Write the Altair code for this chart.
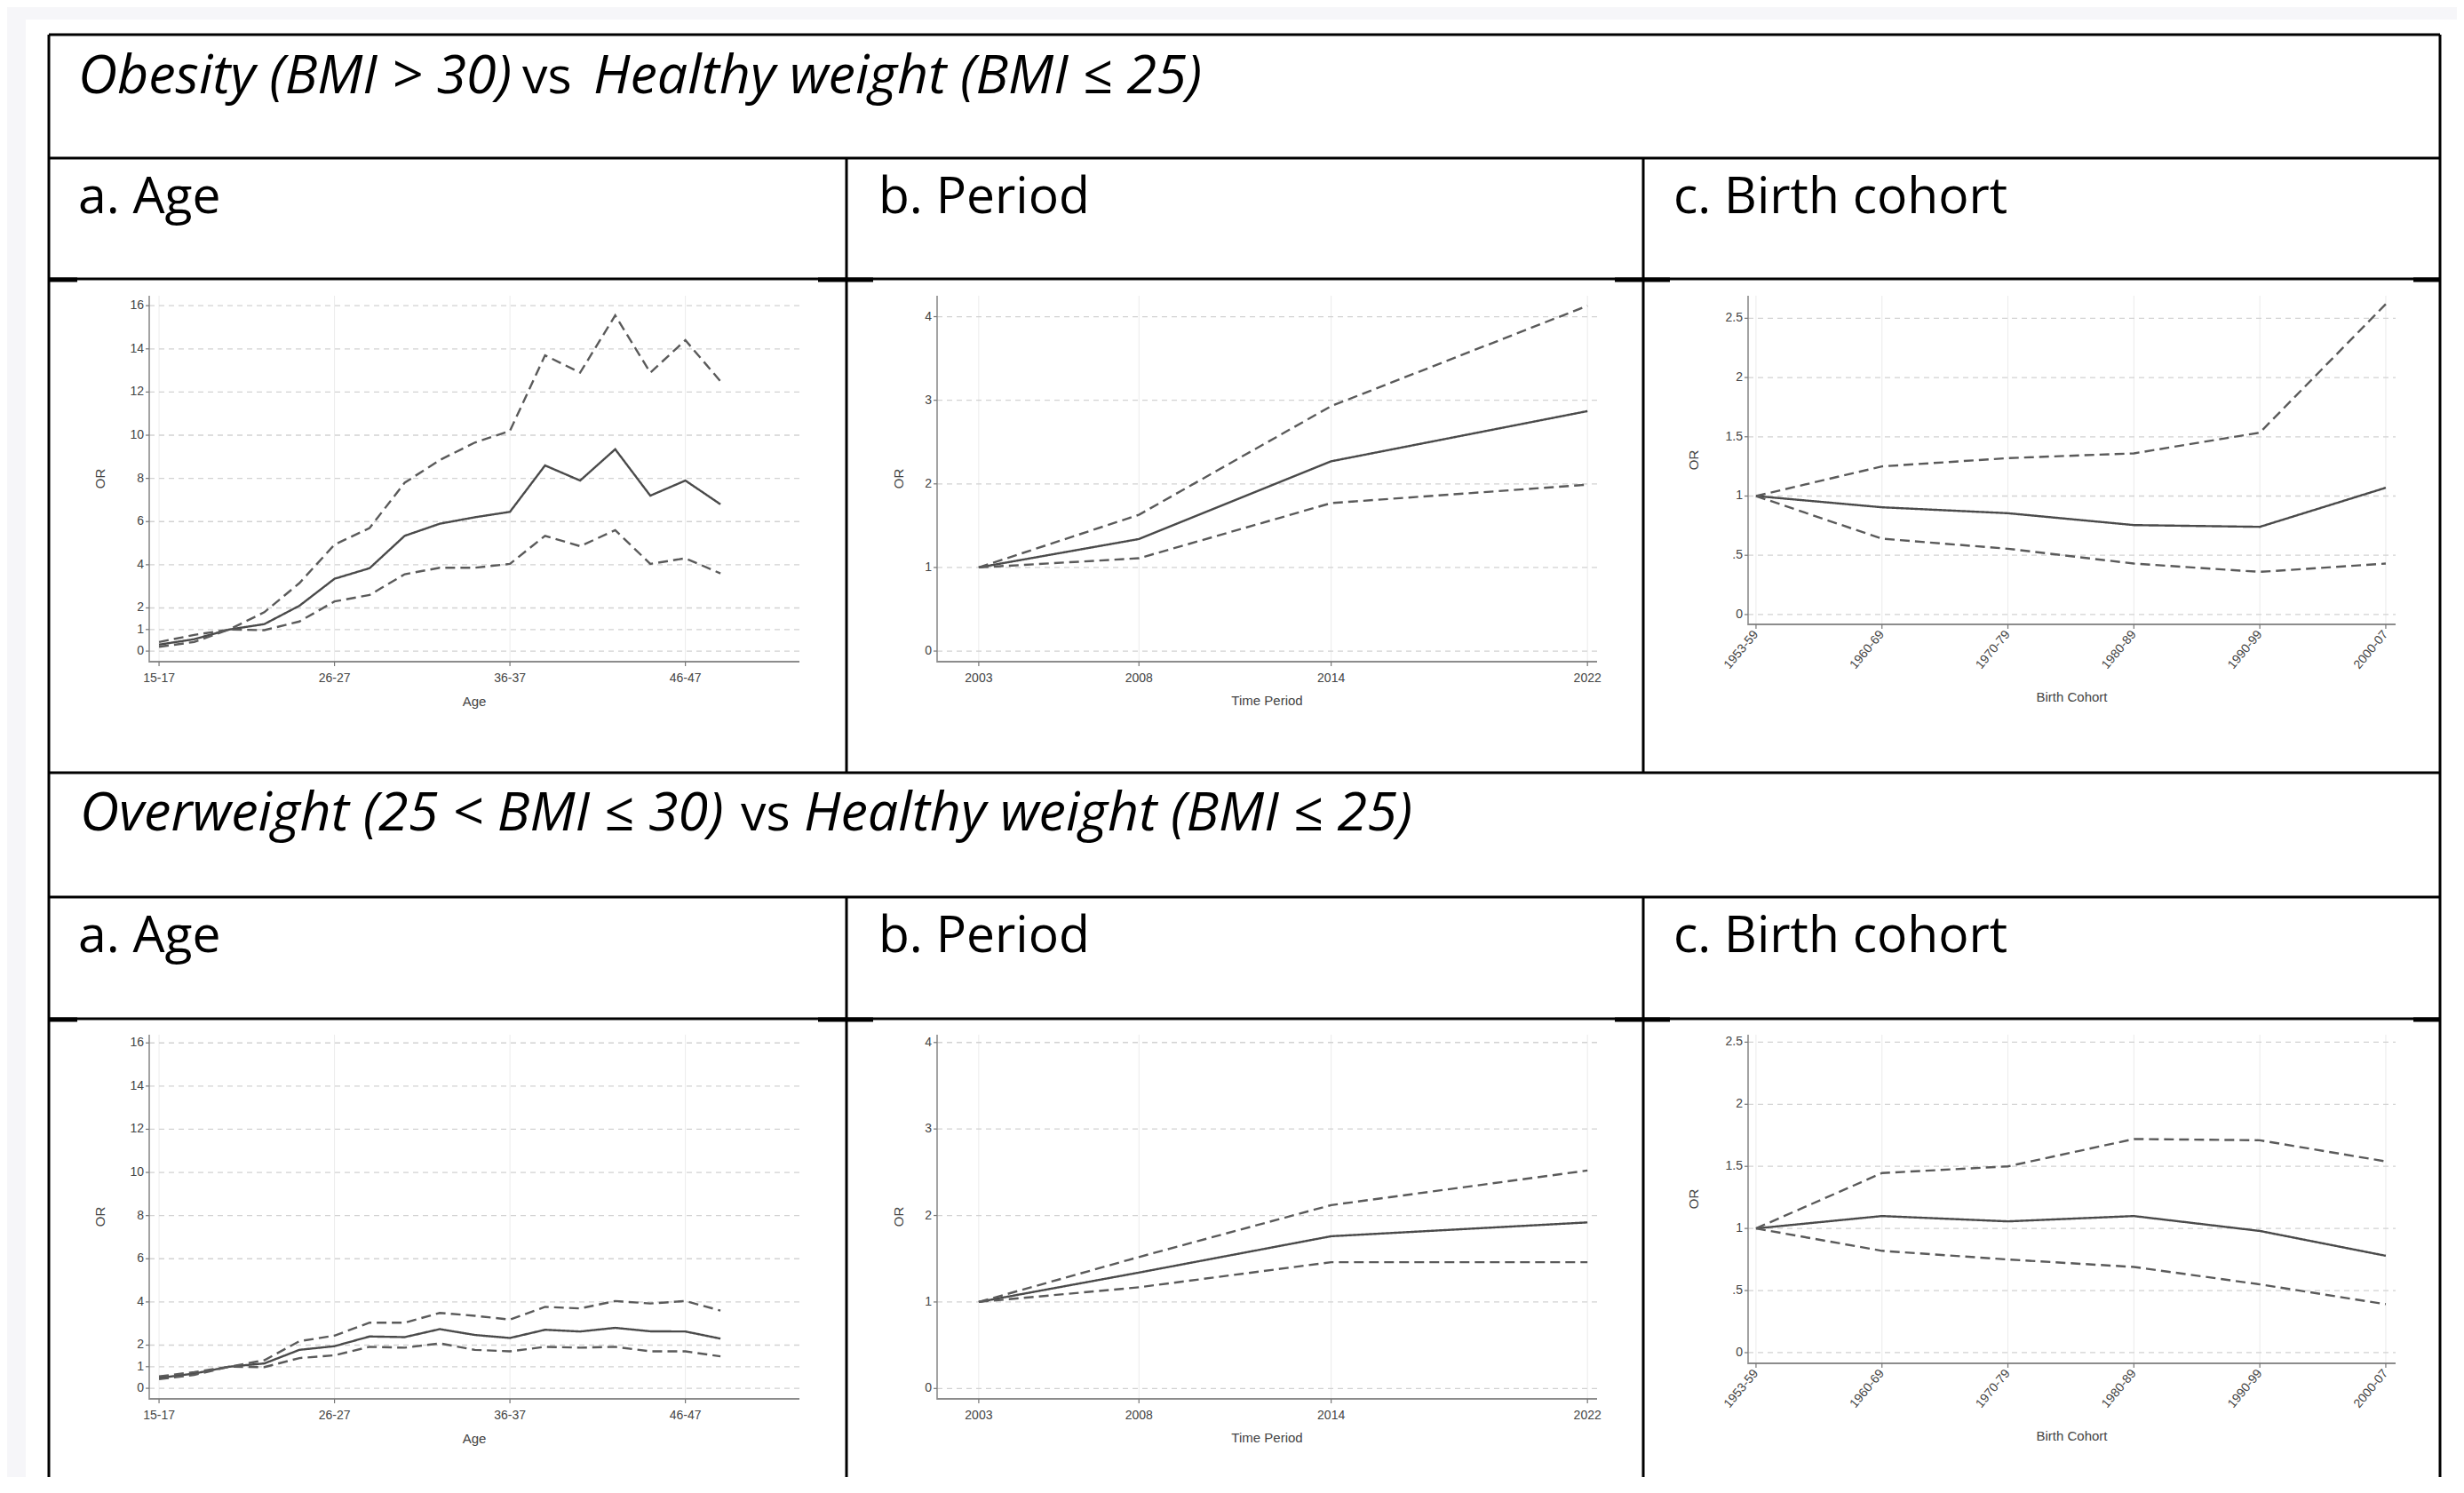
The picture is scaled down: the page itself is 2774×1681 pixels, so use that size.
import altair as alt
import pandas as pd

# ---------------- data ----------------
age_groups = ["15-17", "18-19", "20-21", "22-23", "24-25", "26-27", "28-29", "30-31",
              "32-33", "34-35", "36-37", "38-39", "40-41", "42-43", "44-45", "46-47", "48-49"]
ob_age_or = [0.30, 0.55, 1.00, 1.25, 2.10, 3.35, 3.84, 5.34, 5.90, 6.20, 6.45, 8.60, 7.90, 9.35, 7.20, 7.90, 6.80]
ob_age_hi = [0.42, 0.75, 1.00, 1.80, 3.15, 4.93, 5.70, 7.80, 8.85, 9.66, 10.20, 13.70, 12.90, 15.55, 12.90, 14.40, 12.50]
ob_age_lo = [0.20, 0.42, 1.00, 0.97, 1.37, 2.30, 2.60, 3.56, 3.86, 3.86, 4.04, 5.34, 4.86, 5.60, 4.04, 4.30, 3.60]

ow_age_or = [0.48, 0.68, 1.00, 1.15, 1.78, 1.95, 2.40, 2.37, 2.74, 2.47, 2.33, 2.71, 2.63, 2.80, 2.64, 2.63, 2.30]
ow_age_hi = [0.55, 0.75, 1.00, 1.30, 2.18, 2.44, 3.04, 3.04, 3.49, 3.36, 3.18, 3.77, 3.70, 4.04, 3.93, 4.04, 3.60]
ow_age_lo = [0.42, 0.62, 1.00, 0.98, 1.40, 1.53, 1.92, 1.88, 2.08, 1.78, 1.71, 1.92, 1.88, 1.92, 1.71, 1.71, 1.48]

periods = [2003, 2008, 2014, 2022]
ob_per_or = [1.00, 1.34, 2.27, 2.87]
ob_per_hi = [1.00, 1.63, 2.93, 4.13]
ob_per_lo = [1.00, 1.11, 1.77, 1.99]
ow_per_or = [1.00, 1.34, 1.76, 1.92]
ow_per_hi = [1.00, 1.52, 2.12, 2.52]
ow_per_lo = [1.00, 1.17, 1.46, 1.46]

cohorts = ["1953-59", "1960-69", "1970-79", "1980-89", "1990-99", "2000-07"]
ob_coh_or = [1.00, 0.905, 0.855, 0.755, 0.74, 1.07]
ob_coh_hi = [1.00, 1.25, 1.32, 1.36, 1.535, 2.62]
ob_coh_lo = [1.00, 0.64, 0.555, 0.43, 0.36, 0.43]
ow_coh_or = [1.00, 1.10, 1.057, 1.10, 0.98, 0.78]
ow_coh_hi = [1.00, 1.446, 1.50, 1.72, 1.71, 1.54]
ow_coh_lo = [1.00, 0.82, 0.75, 0.69, 0.55, 0.39]

age_xticks = [0, 5, 10, 15]
age_xlabels = [age_groups[i] for i in age_xticks]
per_xlabels = [str(p) for p in periods]
coh_xticks = list(range(len(cohorts)))

age_yticks = [0, 1, 2, 4, 6, 8, 10, 12, 14, 16]
age_ylabels = ["0", "1", "2", "4", "6", "8", "10", "12", "14", "16"]
per_yticks = [0, 1, 2, 3, 4]
per_ylabels = ["0", "1", "2", "3", "4"]
coh_yticks = [0, 0.5, 1, 1.5, 2, 2.5]
coh_ylabels = ["0", ".5", "1", "1.5", "2", "2.5"]

title_1 = ["Obesity (BMI > 30)", "vs", "Healthy weight (BMI \u2264 25)"]
title_2 = ["Overweight (25 < BMI \u2264 30)", "vs", "Healthy weight (BMI \u2264 25)"]
col_labels = ["a. Age", "b. Period", "c. Birth cohort"]

# ---------------- layout ----------------
W, H = 2758, 1655
HEAD_FONT = "Open Sans"
HEAD_SIZE = 57
ITAL_SIZE = 61
AX_FONT = "Liberation Sans"
AX_TXT = "#444444"
AX_LINE = "#8c8c8c"
LINE_C = "#4a4a4a"
DASH_C = "#5a5a5a"


def series_df(xs, or_, lo, hi):
    rows = []
    for name, vals in (("OR", or_), ("Lower", lo), ("Upper", hi)):
        for x, v in zip(xs, vals):
            rows.append({"x": x, "y": v, "series": name})
    return pd.DataFrame(rows)


def one():
    return pd.DataFrame({"a": [0]})


def panel(df, xr, yr, xdom, ydom, xticks, xlabels, yticks, ylabels, xtitle,
          ytitle_dx, xtitle_dy, label_angle=0):
    x0, x1 = xr
    yb, yt = yr
    xs = alt.Scale(domain=xdom, range=[x0, x1], nice=False, zero=False)
    ys = alt.Scale(domain=ydom, range=[yb, yt], nice=False, zero=False)
    ydf = pd.DataFrame({"v": yticks, "lab": ylabels})
    xdf = pd.DataFrame({"v": xticks, "lab": xlabels})

    hgrid = alt.Chart(ydf).mark_rule(color="#d2d2d2", strokeWidth=1.3, strokeDash=[6, 5]).encode(
        y=alt.Y("v:Q", scale=ys, axis=None), x=alt.value(x0), x2=alt.value(x1))
    vgrid = alt.Chart(xdf).mark_rule(color="#ebebeb", strokeWidth=1).encode(
        x=alt.X("v:Q", scale=xs, axis=None), y=alt.value(yt), y2=alt.value(yb))

    lines = alt.Chart(df).mark_line(strokeWidth=2.4).encode(
        x=alt.X("x:Q", scale=xs, axis=None),
        y=alt.Y("y:Q", scale=ys, axis=None),
        strokeDash=alt.StrokeDash(
            "series:N",
            scale=alt.Scale(domain=["OR", "Lower", "Upper"], range=[[1, 0], [11, 6], [11, 6]]),
            legend=None),
        color=alt.Color(
            "series:N",
            scale=alt.Scale(domain=["OR", "Lower", "Upper"], range=[LINE_C, DASH_C, DASH_C]),
            legend=None),
    )

    # axis lines
    ydom_line = alt.Chart(one()).mark_rule(color=AX_LINE, strokeWidth=1.6).encode(
        x=alt.value(x0), y=alt.value(yt), y2=alt.value(yb + 1))
    xdom_line = alt.Chart(one()).mark_rule(color=AX_LINE, strokeWidth=2.2).encode(
        x=alt.value(x0), x2=alt.value(x1), y=alt.value(yb))
    # ticks
    yticks_m = alt.Chart(ydf).mark_rule(color="#777777", strokeWidth=1.2).encode(
        y=alt.Y("v:Q", scale=ys, axis=None), x=alt.value(x0 - 4), x2=alt.value(x0))
    xticks_m = alt.Chart(xdf).mark_rule(color="#777777", strokeWidth=1.2).encode(
        x=alt.X("v:Q", scale=xs, axis=None), y=alt.value(yb), y2=alt.value(yb + 5))
    # tick labels
    ylab = alt.Chart(ydf).mark_text(font=AX_FONT, fontSize=14, color=AX_TXT, align="right",
                                    baseline="middle").encode(
        y=alt.Y("v:Q", scale=ys, axis=None), x=alt.value(x0 - 6), text="lab:N")
    if label_angle:
        xlab = alt.Chart(xdf).mark_text(font=AX_FONT, fontSize=14, color=AX_TXT, align="right",
                                        baseline="middle", angle=label_angle).encode(
            x=alt.X("v:Q", scale=xs, axis=None), y=alt.value(yb + 9), text="lab:N")
    else:
        xlab = alt.Chart(xdf).mark_text(font=AX_FONT, fontSize=14, color=AX_TXT, align="center",
                                        baseline="top").encode(
            x=alt.X("v:Q", scale=xs, axis=None), y=alt.value(yb + 12), text="lab:N")
    # axis titles
    xt = alt.Chart(one()).mark_text(font=AX_FONT, fontSize=15, color=AX_TXT, align="center",
                                    baseline="middle").encode(
        x=alt.value((x0 + x1) / 2), y=alt.value(yb + xtitle_dy), text=alt.value(xtitle))
    yt_m = alt.Chart(one()).mark_text(font=AX_FONT, fontSize=15, color=AX_TXT, align="center",
                                      baseline="middle", angle=270).encode(
        x=alt.value(x0 + ytitle_dx), y=alt.value((yb + yt) / 2), text=alt.value("OR"))

    return alt.layer(vgrid, hgrid, ydom_line, xdom_line, yticks_m, xticks_m, lines,
                     ylab, xlab, xt, yt_m)


ROW_SHIFT = 832
panels = []
for shift, a, p, c in (
    (0, (ob_age_or, ob_age_lo, ob_age_hi), (ob_per_or, ob_per_lo, ob_per_hi), (ob_coh_or, ob_coh_lo, ob_coh_hi)),
    (ROW_SHIFT, (ow_age_or, ow_age_lo, ow_age_hi), (ow_per_or, ow_per_lo, ow_per_hi), (ow_coh_or, ow_coh_lo, ow_coh_hi)),
):
    top = 325 + shift
    if shift == 0:
        ydom_a, ydom_p, ydom_c = [-0.49, 16.46], [-0.127, 4.25], [-0.083, 2.69]
        yb_ac = 737
        yb_c = 695
    else:
        ydom_a, ydom_p, ydom_c = [-0.49, 16.38], [-0.12, 4.09], [-0.086, 2.56]
        yb_ac = 737 + shift - 2
        yb_c = 695 + shift
    panels.append(panel(series_df(list(range(len(age_groups))), *a),
                        (160, 892), (yb_ac, top), [-0.28, 18.25], ydom_a,
                        age_xticks, age_xlabels, age_yticks, age_ylabels, "Age", -55, 45))
    panels.append(panel(series_df(periods, *p),
                        (1047, 1790), (yb_ac, top), [2001.7, 2022.3], ydom_p,
                        periods, per_xlabels, per_yticks, per_ylabels, "Time Period", -43, 44))
    panels.append(panel(series_df(coh_xticks, *c),
                        (1960, 2689), (yb_c, top), [-0.063, 5.078], ydom_c,
                        coh_xticks, cohorts, coh_yticks, coh_ylabels, "Birth Cohort", -61, 82,
                        label_angle=310))

# ---------------- table frame ----------------
L, R = 47, 2739
hy = [31, 170, 306, 862, 1002, 1139]
cols = [945, 1842]
segs = [{"x": L, "x2": R, "y": y, "y2": y} for y in hy]
segs += [{"x": L, "x2": L, "y": hy[0], "y2": H}, {"x": R, "x2": R, "y": hy[0], "y2": H}]
for cx in cols:
    segs.append({"x": cx, "x2": cx, "y": hy[1], "y2": hy[3]})
    segs.append({"x": cx, "x2": cx, "y": hy[4], "y2": H})
frame = alt.Chart(pd.DataFrame(segs)).mark_rule(color="#000000", strokeWidth=3).encode(
    x=alt.X("x:Q", scale=None, axis=None), x2="x2:Q",
    y=alt.Y("y:Q", scale=None, axis=None), y2="y2:Q",
)

# short thicker cell-corner segments on the top edge of the chart rows
corner = []
for y in (hy[2] + 1, hy[5] + 1):
    corner.append({"x": L, "x2": L + 32, "y": y, "y2": y})
    for cx in cols:
        corner.append({"x": cx - 32, "x2": cx + 30, "y": y, "y2": y})
    corner.append({"x": R - 30, "x2": R, "y": y, "y2": y})
corners = alt.Chart(pd.DataFrame(corner)).mark_rule(color="#000000", strokeWidth=5).encode(
    x=alt.X("x:Q", scale=None, axis=None), x2="x2:Q",
    y=alt.Y("y:Q", scale=None, axis=None), y2="y2:Q",
)

# light grey page edge (top strip and left strip)
edge = alt.Chart(pd.DataFrame({"x": [0, 0], "x2": [W, 21], "y": [0, 0], "y2": [14, H]})).mark_rect(
    color="#f6f6f9"
).encode(
    x=alt.X("x:Q", scale=None, axis=None), x2="x2:Q",
    y=alt.Y("y:Q", scale=None, axis=None), y2="y2:Q",
)

italic_rows = [
    {"t": title_1[0], "x": 80, "y": 97},
    {"t": title_1[2], "x": 660, "y": 97},
    {"t": title_2[0], "x": 82, "y": 927},
    {"t": title_2[2], "x": 897, "y": 927},
]
normal_rows = [
    {"t": title_1[1], "x": 580, "y": 97},
    {"t": title_2[1], "x": 826, "y": 927},
]
for base in (232, 1064):
    for lab, x in zip(col_labels, (80, 981, 1876)):
        normal_rows.append({"t": lab, "x": x, "y": base})

italic_text = alt.Chart(pd.DataFrame(italic_rows)).mark_text(
    font=HEAD_FONT, fontSize=ITAL_SIZE, fontStyle="italic", align="left",
    baseline="alphabetic", color="#000000"
).encode(
    x=alt.X("x:Q", scale=None, axis=None), y=alt.Y("y:Q", scale=None, axis=None), text="t:N"
)
normal_text = alt.Chart(pd.DataFrame(normal_rows)).mark_text(
    font=HEAD_FONT, fontSize=HEAD_SIZE, align="left", baseline="alphabetic", color="#000000"
).encode(
    x=alt.X("x:Q", scale=None, axis=None), y=alt.Y("y:Q", scale=None, axis=None), text="t:N"
)

chart = alt.layer(edge, *panels, frame, corners, italic_text, normal_text).resolve_scale(
    x="independent", y="independent"
).properties(
    width=W, height=H, autosize=alt.AutoSizeParams(type="none"), padding=0,
    background="#ffffff",
).configure_view(stroke=None)

chart.save("out.html", embed_options={"renderer": "svg", "actions": False})
